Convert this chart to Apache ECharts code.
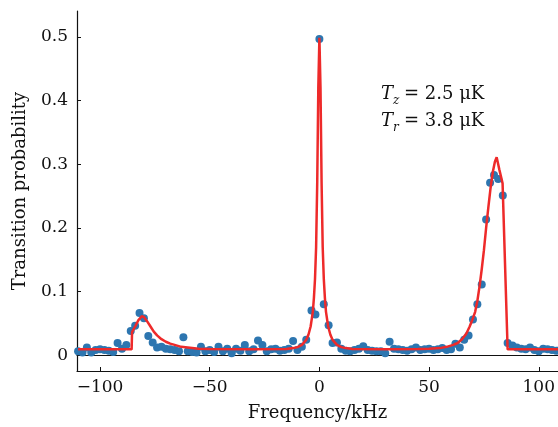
<!DOCTYPE html>
<html>
<head>
<meta charset="utf-8">
<script src="https://cdn.jsdelivr.net/npm/echarts@6/dist/echarts.min.js"></script>
<style>html,body{margin:0;padding:0;background:#fff}#c{width:558px;height:427px}</style>
</head>
<body>
<div id="c"></div>
<script>
// Measured points (frequency in kHz, transition probability)
var dotFreq = [-110,-108,-106,-104,-102,-100,-98,-96,-94,-92,-90,-88,-86,-84,-82,-80,-78,-76,-74,-72,-70,-68,-66,-64,-62,-60,-58,-56,-54,-52,-50,-48,-46,-44,-42,-40,-38,-36,-34,-32,-30,-28,-26,-24,-22,-20,-18,-16,-14,-12,-10,-8,-6,-3.6,-1.8,0,2,4.2,6,8,10,12,14,16,18,20,22,24,26,28,30,32,34,36,38,40,42,44,46,48,50,52,54,56,58,60,62,64,66,68,70,72,74,76,77.8,79.6,81.5,83.6,85.8,88,90,92,94,96,98,100,102,104,106,108,110];
var dotProb = [0.006,0.004,0.012,0.004,0.008,0.009,0.008,0.007,0.005,0.019,0.010,0.016,0.038,0.046,0.066,0.058,0.030,0.020,0.012,0.013,0.010,0.009,0.008,0.006,0.028,0.006,0.005,0.004,0.013,0.006,0.008,0.005,0.013,0.006,0.010,0.003,0.010,0.007,0.016,0.006,0.009,0.023,0.016,0.006,0.009,0.010,0.007,0.008,0.010,0.022,0.008,0.013,0.024,0.070,0.064,0.497,0.080,0.047,0.019,0.020,0.010,0.007,0.006,0.008,0.010,0.014,0.008,0.007,0.006,0.006,0.003,0.021,0.010,0.009,0.008,0.007,0.009,0.012,0.008,0.009,0.010,0.008,0.009,0.011,0.008,0.009,0.018,0.012,0.024,0.031,0.056,0.080,0.111,0.213,0.271,0.283,0.277,0.251,0.019,0.015,0.012,0.010,0.009,0.012,0.008,0.006,0.010,0.009,0.008,0.007,0.008];
// Fit curve
var fitFreq = [-110,-85.6,-85.4,-84,-82.5,-81,-80,-78.5,-77,-75.5,-74,-72,-70,-68,-66,-63,-60,-55,-50,-30,-15,-12,-10,-8,-6,-5,-4,-3,-2.5,-2,-1.5,-1,-0.5,0,0.5,1,1.5,2,2.5,3,4,5,6,8,10,12,15,30,45,50,55,58,61,63,65,67,68.5,70,71,72,73,74,75,76,77,78,79,80,80.8,81.5,82,82.8,83.5,85.8,110];
var fitProb = [0.009,0.009,0.036,0.045,0.055,0.061,0.060,0.053,0.045,0.037,0.031,0.025,0.021,0.018,0.016,0.013,0.012,0.010,0.0095,0.009,0.0095,0.011,0.0125,0.016,0.024,0.032,0.045,0.068,0.09,0.12,0.17,0.27,0.42,0.499,0.42,0.27,0.17,0.12,0.09,0.068,0.045,0.032,0.024,0.016,0.0125,0.011,0.0095,0.009,0.0095,0.010,0.011,0.013,0.016,0.019,0.025,0.034,0.045,0.058,0.068,0.085,0.108,0.135,0.165,0.200,0.232,0.262,0.287,0.304,0.311,0.300,0.292,0.290,0.270,0.009,0.009];
var xTicks = [-100,-50,0,50,100];
var yTicks = [0,0.1,0.2,0.3,0.4,0.5];

var dots = dotFreq.map(function(f,i){return [f, dotProb[i]];});
var fit = fitFreq.map(function(f,i){return [f, fitProb[i]];});

var FONT = 'DejaVu Serif';
var INK = '#111';
var chart = echarts.init(document.getElementById('c'), null, {renderer:'canvas'});
chart.setOption({
  animation:false,
  backgroundColor:'#fff',
  grid:{left:77, top:11, right:0, bottom:55, containLabel:false},
  xAxis:[{
    type:'value', min:-110.5, max:108.7,
    name:'Frequency/kHz', nameLocation:'middle', nameGap:33,
    nameTextStyle:{fontFamily:FONT, fontSize:18, color:INK},
    axisLine:{show:true, onZero:false, lineStyle:{color:INK, width:1.2}},
    axisTick:{show:true, inside:true, length:4, customValues:xTicks, lineStyle:{color:INK}},
    axisLabel:{customValues:xTicks, fontFamily:FONT, fontSize:17, color:INK, margin:8,
      formatter:function(v){return v<0?'\u2212'+Math.abs(v):String(v);}},
    splitLine:{show:false}
  },{
    type:'value', position:'top', min:-110.5, max:108.7,
    axisLine:{show:true, lineStyle:{color:INK, width:1.2}},
    axisTick:{show:false}, axisLabel:{show:false}, splitLine:{show:false}
  }],
  yAxis:{
    type:'value', min:-0.025, max:0.541,
    name:'Transition probability', nameLocation:'middle', nameGap:48, nameRotate:90,
    nameTextStyle:{fontFamily:FONT, fontSize:18, color:INK},
    axisLine:{show:true, onZero:false, lineStyle:{color:INK, width:1.2}},
    axisTick:{show:true, inside:true, length:4, customValues:yTicks, lineStyle:{color:INK}},
    axisLabel:{customValues:yTicks, fontFamily:FONT, fontSize:17, color:INK, margin:9,
      formatter:function(v){return v===0?'0':v.toFixed(1);}},
    splitLine:{show:false}
  },
  series:[{
    type:'scatter', data:dots, symbolSize:8,
    itemStyle:{color:'#2d76b0', opacity:1}, z:2
  },{
    type:'line', data:fit, showSymbol:false, symbol:'none',
    lineStyle:{color:'#ee2a2a', width:2.5}, z:3
  }],
  graphic:[
    {type:'text', left:381, top:85, style:{text:'T', font:'italic 18px "DejaVu Serif"', fill:INK}},
    {type:'text', left:393, top:95, style:{text:'z', font:'italic 12px "DejaVu Serif"', fill:INK}},
    {type:'text', left:404, top:85, style:{text:'= 2.5 \u03bcK', font:'18px "DejaVu Serif"', fill:INK}},
    {type:'text', left:381, top:112, style:{text:'T', font:'italic 18px "DejaVu Serif"', fill:INK}},
    {type:'text', left:393, top:122, style:{text:'r', font:'italic 12px "DejaVu Serif"', fill:INK}},
    {type:'text', left:404, top:112, style:{text:'= 3.8 \u03bcK', font:'18px "DejaVu Serif"', fill:INK}}
  ]
});
</script>
</body>
</html>
